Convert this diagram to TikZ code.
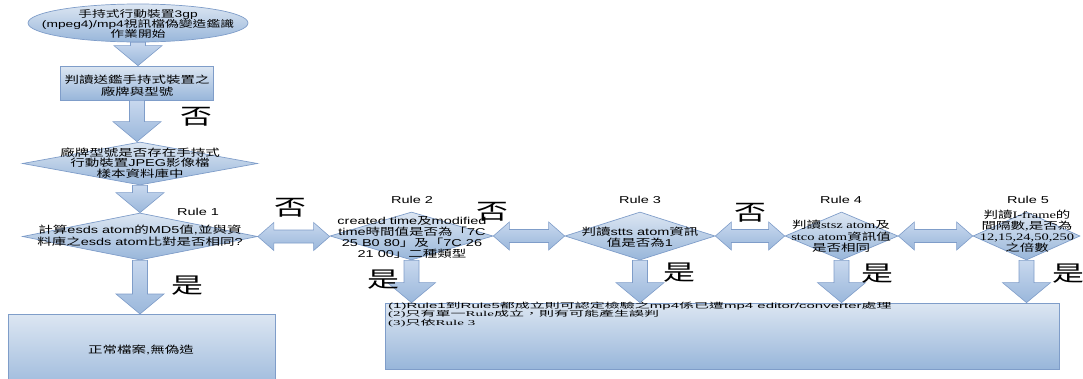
\documentclass[tikz,border=0pt]{standalone}
\usepackage{fontspec}
\usetikzlibrary{shapes.geometric,calc}
\setmainfont{Liberation Sans}[FakeStretch=1.45]
\newfontfamily\cjkN{Noto Sans CJK TC}[FakeStretch=1.45]
\newfontfamily\serifN{Liberation Serif}[FakeStretch=1.45]
\newfontfamily\cjkW{Noto Sans CJK TC}[FakeStretch=2.0]
\newfontfamily\latinW{Liberation Sans}[FakeStretch=2.0]
\newfontfamily\serifW{Liberation Serif}[FakeStretch=2.0]
\def\curcjk{\cjkN}
\def\curlatin{\rmfamily}
\XeTeXinterchartokenstate=1
\newXeTeXintercharclass\CJKcls
\newcount\cjkc
\def\setcjkrange#1#2{\cjkc=#1\relax\loop\XeTeXcharclass\cjkc=\CJKcls\relax\ifnum\cjkc<#2\relax\advance\cjkc by 1\relax\repeat}
\setcjkrange{"3000}{"303F}
\setcjkrange{"4E00}{"9FFF}
\setcjkrange{"FF00}{"FFEF}
\XeTeXinterchartoks 0 \CJKcls = {\curcjk}
\XeTeXinterchartoks 4095 \CJKcls = {\curcjk}
\XeTeXinterchartoks \CJKcls 0 = {\curlatin}
\XeTeXinterchartoks \CJKcls 4095 = {\curlatin}
\definecolor{ftop}{HTML}{DCE6F2}
\definecolor{fbot}{HTML}{98B6DA}
\definecolor{atop}{HTML}{C8D8EE}
\definecolor{abot}{HTML}{9AB7DB}
\definecolor{edge}{HTML}{7F9DC9}
\newcommand\blockdown[2]{\path[arrowfill] let \p1=(#1), \p2=(#2) in
  (\x1-7.5pt,\y1) -- (\x1+7.5pt,\y1) -- (\x1+7.5pt,\y2+20pt) -- (\x1+24pt,\y2+20pt)
  -- (\x1,\y2) -- (\x1-24pt,\y2+20pt) -- (\x1-7.5pt,\y2+20pt) -- cycle;}
\newcommand\blockboth[2]{\path[arrowfill] let \p1=(#1), \p2=(#2) in
  (\x1,\y1) -- (\x1+16pt,\y1+14pt) -- (\x1+16pt,\y1+6.5pt) -- (\x2-16pt,\y1+6.5pt)
  -- (\x2-16pt,\y1+14pt) -- (\x2,\y1) -- (\x2-16pt,\y1-14pt) -- (\x2-16pt,\y1-6.5pt)
  -- (\x1+16pt,\y1-6.5pt) -- (\x1+16pt,\y1-14pt) -- cycle;}
\begin{document}
\begin{tikzpicture}[x=1pt,y=-1pt,
  shapebox/.style={draw=edge, line width=0.7pt, top color=ftop, bottom color=fbot, inner sep=0pt},
  arrowfill/.style={draw=edge, line width=0.6pt, top color=atop, bottom color=abot},
  txt/.style={align=center, inner sep=0pt, font=\fontsize{10}{10.5}\selectfont},
  sertxt/.style={align=center, inner sep=0pt, font={\def\curlatin{\serifN}\serifN\fontsize{10}{11}\selectfont}},
  yesno/.style={inner sep=0pt, font=\fontsize{22}{22}\selectfont},
  rulelbl/.style={inner sep=0pt, font=\fontsize{10}{12}\selectfont}]
\useasboundingbox (0,0) rectangle (1083,378);
\clip (0,0) rectangle (1083,378);
% shapes
\node[shapebox, ellipse, minimum width=220pt, minimum height=38pt] (e0) at (138,23) {};
\node[shapebox, rectangle, minimum width=153pt, minimum height=34pt] (r1) at (137,83) {};
\node[shapebox, diamond, minimum width=235pt, minimum height=43pt] (d1) at (140,163.5) {};
\node[shapebox, diamond, minimum width=235pt, minimum height=47pt] (d2) at (140,236.5) {};
\node[shapebox, rectangle, minimum width=267pt, minimum height=80pt, anchor=north] (r2) at (141.5,314) {};
\node[shapebox, diamond, minimum width=163pt, minimum height=48pt] (q2) at (411.5,236) {};
\node[shapebox, diamond, minimum width=150pt, minimum height=48pt] (q3) at (640,236) {};
\node[shapebox, diamond, minimum width=113pt, minimum height=48pt] (q4) at (841.5,236) {};
\node[shapebox, diamond, minimum width=107pt, minimum height=48pt] (q5) at (1026.5,236) {};
\node[shapebox, rectangle, minimum width=674pt, minimum height=66pt] (B) at (722,336) {};
% block arrows
\blockdown{e0.south}{r1.north}
\blockdown{r1.south}{d1.north}
\blockdown{d1.south}{d2.north}
\blockdown{d2.south}{r2.north}
\blockboth{d2.east}{q2.west}
\blockboth{q2.east}{q3.west}
\blockboth{q3.east}{q4.west}
\blockboth{q4.east}{q5.west}
\blockdown{q2.south}{q2.south |- B.north}
\blockdown{q3.south}{q3.south |- B.north}
\blockdown{q4.south}{q4.south |- B.north}
\blockdown{q5.south}{q5.south |- B.north}
% texts
\node[txt, font=\fontsize{9.5}{10.2}\selectfont] (e0t) at (138,24) {手持式行動裝置3gp\\(mpeg4)/mp4視訊檔偽變造鑑識\\作業開始};
\node[txt, font=\fontsize{10}{12}\selectfont] (r1t) at (137,86) {判讀送鑑手持式裝置之\\廠牌與型號};
\node[txt] (d1t) at (140,163) {廠牌型號是否存在手持式\\行動裝置JPEG影像檔\\樣本資料庫中};
\node[txt, font=\fontsize{10}{12}\selectfont] (d2t) at (140,236) {計算esds atom的MD5值,並與資\\料庫之esds atom比對是否相同?};
\node[txt] (r2t) at (141,350) {正常檔案,無偽造};
\node[rulelbl] (l1) at (198,212) {Rule 1};
\node[rulelbl] (l2) at (412,200) {Rule 2};
\node[rulelbl] (l3) at (640,200) {Rule 3};
\node[rulelbl] (l4) at (841,200) {Rule 4};
\node[rulelbl] (l5) at (1028,200) {Rule 5};
\node[txt, font=\fontsize{10}{11}\selectfont] (q2t) at (412,237) {created time及modified\\time時間值是否為「7C\\25 B0 80」及「7C 26\\21 00」二種類型};
\node[txt, font=\fontsize{10}{10.5}\selectfont] (q3t) at (640,237) {判讀stts atom資訊\\值是否為1};
\node[sertxt, font={\def\curlatin{\serifN}\serifN\fontsize{10}{11.5}\selectfont}] (q4t) at (841,236.5) {判讀stsz atom及\\stco atom資訊值\\是否相同};
\node[sertxt] (q5t) at (1027,231.5) {判讀I-frame的\\間隔數,是否為\\12,15,24,50,250\\之倍數};
\node[anchor=north west, inner sep=0pt, align=left, font={\def\curcjk{\cjkW}\def\curlatin{\latinW}\latinW\fontsize{7.5}{8.6}\selectfont}] (Bt) at (388,301.5)
 {(1)Rule1到Rule5都成立則可認定檢驗之mp4係已遭mp4 editor/converter處理\\
  \def\curlatin{\serifW}\curlatin (2)只有單一Rule成立，則有可能產生誤判\\
  \def\curlatin{\serifW}\curlatin (3)只依Rule 3};
% yes / no labels
\node[yesno] (n0) at (196,117) {否};
\node[yesno] (n1) at (290,208) {否};
\node[yesno] (n2) at (492,212) {否};
\node[yesno] (n3) at (750,213) {否};
\node[yesno] (y1) at (187,286) {是};
\node[yesno] (y2) at (383,280) {是};
\node[yesno] (y3) at (679,273) {是};
\node[yesno] (y4) at (877,274) {是};
\node[yesno] (y5) at (1068,274) {是};
\end{tikzpicture}
\end{document}
